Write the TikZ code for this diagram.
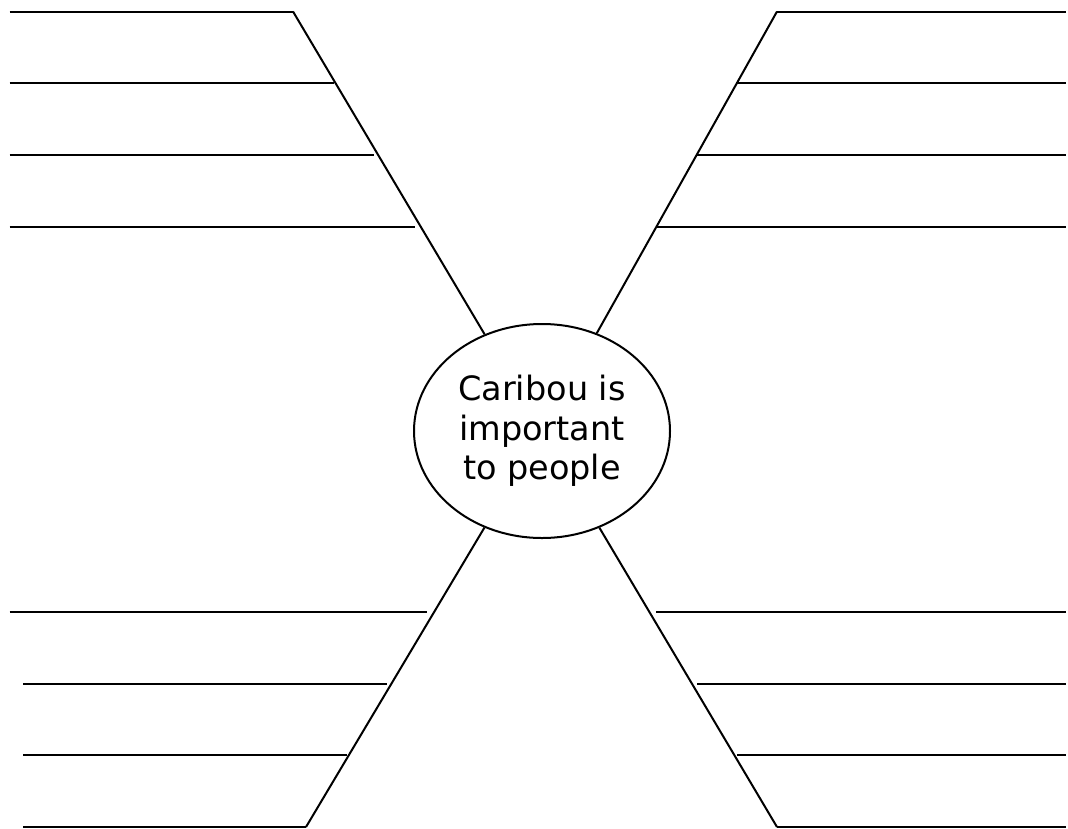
\documentclass[tikz,border=0pt]{standalone}
\usepackage{fontspec}
\setmainfont{DejaVu Sans}
\usetikzlibrary{shapes.geometric}
\begin{document}
\begin{tikzpicture}[x=1pt,y=-1pt,
  rule/.style={line width=2pt,black,line cap=butt},
  hub/.style={ellipse,draw,line width=2pt,inner sep=0pt,
    minimum width=256pt,minimum height=214pt,align=center,
    font={\fontsize{33.5}{39.5}\selectfont}}]
\useasboundingbox (0,0) rectangle (1068,828);
% central ellipse
\node[hub] (ell) at (542,431) {Caribou is\\important\\to people};
% corner coordinates of the four spokes
\coordinate (tl) at (293,11.5);
\coordinate (tr) at (777,11.5);
\coordinate (bl) at (306,827);
\coordinate (br) at (777,827);
% spokes
\draw[rule] (tl) -- (ell);
\draw[rule] (tr) -- (ell);
\draw[rule] (bl) -- (ell);
\draw[rule] (br) -- (ell);
% top-left lines
\draw[rule] (9.5,11.5) -- (tl);
\draw[rule] (9.5,83) -- (334,83);
\draw[rule] (9.5,155) -- (374,155);
\draw[rule] (9.5,227) -- (415,227);
% top-right lines
\draw[rule] (tr) -- (1066,11.5);
\draw[rule] (737,83) -- (1066,83);
\draw[rule] (696,155) -- (1066,155);
\draw[rule] (656,227) -- (1066,227);
% bottom-left lines
\draw[rule] (9.5,611.7) -- (427,611.7);
\draw[rule] (23,683.7) -- (387,683.7);
\draw[rule] (23,755.3) -- (347,755.3);
\draw[rule] (23,827) -- (bl);
% bottom-right lines
\draw[rule] (656,611.7) -- (1066,611.7);
\draw[rule] (697,683.7) -- (1066,683.7);
\draw[rule] (737,755.3) -- (1066,755.3);
\draw[rule] (br) -- (1066,827);
\end{tikzpicture}
\end{document}
